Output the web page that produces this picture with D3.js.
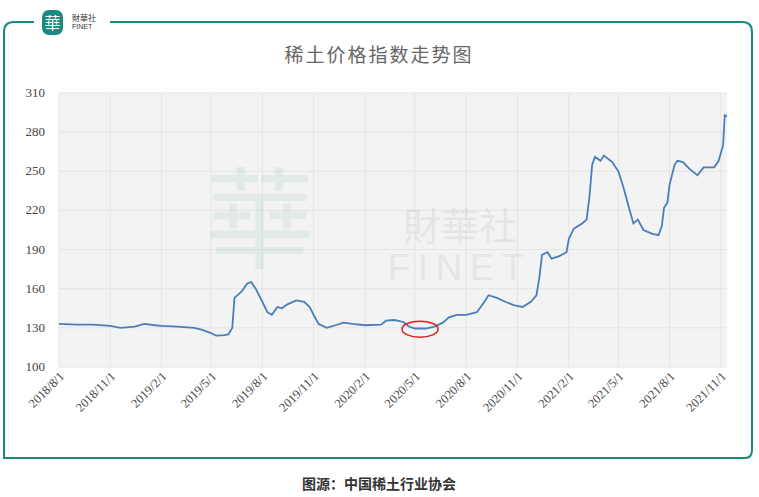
<!DOCTYPE html><html><head><meta charset="utf-8"><script src="https://d3js.org/d3.v7.min.js"></script>
<style>body{margin:0;background:#fff}</style></head><body><svg width="759" height="497"></svg>
<script>
const dates=["2018-08-01","2018-09-01","2018-10-01","2018-11-01","2018-11-20","2018-12-15","2019-01-01","2019-01-20","2019-02-01","2019-03-01","2019-04-01","2019-04-15","2019-05-01","2019-05-10","2019-05-25","2019-06-01","2019-06-08","2019-06-12","2019-06-25","2019-07-05","2019-07-12","2019-07-20","2019-08-01","2019-08-10","2019-08-18","2019-08-28","2019-09-05","2019-09-15","2019-10-01","2019-10-15","2019-10-25","2019-11-01","2019-11-10","2019-11-25","2019-12-10","2019-12-25","2020-01-10","2020-02-01","2020-03-01","2020-03-10","2020-03-25","2020-04-10","2020-04-20","2020-05-01","2020-05-20","2020-06-05","2020-06-20","2020-07-01","2020-07-15","2020-08-01","2020-08-20","2020-09-01","2020-09-10","2020-09-25","2020-10-10","2020-10-25","2020-11-10","2020-11-25","2020-12-05","2020-12-10","2020-12-15","2020-12-25","2021-01-01","2021-01-15","2021-01-28","2021-02-01","2021-02-10","2021-02-25","2021-03-05","2021-03-10","2021-03-15","2021-03-20","2021-03-30","2021-04-05","2021-04-20","2021-05-01","2021-05-10","2021-05-20","2021-05-28","2021-06-05","2021-06-15","2021-07-01","2021-07-12","2021-07-18","2021-07-22","2021-07-28","2021-08-01","2021-08-10","2021-08-15","2021-08-25","2021-09-05","2021-09-20","2021-10-01","2021-10-20","2021-10-28","2021-11-05","2021-11-08","2021-11-12"];
const values=[133,132.5,132.5,131.5,130,131,133,132,131.5,131,130,128.5,126,124,124.5,125,130,153,158,164,165,160,150,142,140,146,145,148,151,150,146,140,133,130,132,134,133,132,132.5,135.5,136,134.5,131,129.5,129.5,131,134,138,140,140,142,149,155,153,150,147.5,146,150,155,168,186,188,183,185,188,198,206,210,213,230,255,261,258,262,257,250,238,222,210,213,205,202,201,208,222,226,240,255,258,257,252,247,253,253,258,270,293,292];
const tickLabels=["2018/8/1","2018/11/1","2019/2/1","2019/5/1","2019/8/1","2019/11/1","2020/2/1","2020/5/1","2020/8/1","2020/11/1","2021/2/1","2021/5/1","2021/8/1","2021/11/1"];
const yTicks=[100,130,160,190,220,250,280,310];
const title="稀土价格指数走势图", source="图源：中国稀土行业协会";
const p=d3.timeParse("%Y-%m-%d"), tp=d3.timeParse("%Y/%m/%d");
const data=dates.map((d,i)=>({d:p(d),v:values[i]}));
const svg=d3.select("svg");
const x=d3.scaleTime().domain([p("2018-08-01"),p("2021-11-12")]).range([59,727]);
const y=d3.scaleLinear().domain([100,310]).range([367,93]);
svg.append("path").attr("d","M110,22 H14 Q4,22 4,32 V458 H745 Q752,458 752,450 V32 Q752,22 742,22 H110").attr("fill","none").attr("stroke","#1a8a80").attr("stroke-width",2);
svg.append("rect").attr("x",34).attr("y",10).attr("width",76).attr("height",30).attr("fill","#fff");
svg.append("rect").attr("x",42).attr("y",10).attr("width",21).attr("height",25).attr("rx",7).attr("fill","#1a8a80");
svg.append("text").attr("x",52.5).attr("y",29).attr("text-anchor","middle").attr("fill","#fff").attr("font-size",16).attr("font-family","Noto Sans CJK TC").text("華");
svg.append("text").attr("x",72).attr("y",21).attr("font-size",8).attr("font-family","Noto Sans CJK TC").attr("fill","#333").text("財華社");
svg.append("text").attr("x",72).attr("y",29).attr("font-size",7).attr("font-family","Liberation Sans").attr("fill","#333").text("FINET");
svg.append("text").attr("x",379).attr("y",62).attr("text-anchor","middle").attr("font-size",19).attr("fill","#666").attr("letter-spacing",2).attr("font-family","Noto Sans CJK SC").text(title);
svg.append("rect").attr("x",59).attr("y",93).attr("width",668).attr("height",274).attr("fill","#f3f3f3");
const ticks=tickLabels.map(tp);
svg.append("g").selectAll("line").data(ticks).join("line").attr("x1",d=>x(d)).attr("x2",d=>x(d)).attr("y1",93).attr("y2",367).attr("stroke","#e4e4e4");
svg.append("g").selectAll("line").data(yTicks).join("line").attr("x1",59).attr("x2",727).attr("y1",d=>y(d)).attr("y2",d=>y(d)).attr("stroke","#e4e4e4");
svg.append("text").attr("x",260).attr("y",260).attr("text-anchor","middle").attr("font-size",110).attr("fill","#1a8a80").attr("opacity",0.08).attr("font-family","Noto Sans CJK TC").text("華");
svg.append("text").attr("x",460).attr("y",240).attr("text-anchor","middle").attr("font-size",38).attr("fill","#999").attr("opacity",0.15).attr("font-family","Noto Sans CJK TC").text("財華社");
svg.append("text").attr("x",460).attr("y",280).attr("text-anchor","middle").attr("font-size",36).attr("fill","#999").attr("opacity",0.15).attr("letter-spacing",8).attr("font-family","Liberation Sans").text("FINET");
svg.append("g").selectAll("text").data(yTicks).join("text").attr("x",45).attr("y",d=>y(d)+4).attr("text-anchor","end").attr("font-size",13).attr("font-family","Liberation Serif").attr("fill","#444").text(d=>d);
svg.append("g").selectAll("text").data(ticks).join("text").attr("transform",d=>`translate(${x(d)+6},${377}) rotate(-45)`).attr("text-anchor","end").attr("font-size",12.5).attr("font-family","Liberation Serif").attr("fill","#444").text((d,i)=>tickLabels[i]);
svg.append("path").datum(data).attr("d",d3.line().x(d=>x(d.d)).y(d=>y(d.v))).attr("fill","none").attr("stroke","#4a7ebb").attr("stroke-width",1.8);
svg.append("ellipse").attr("cx",x(p("2020-05-10"))).attr("cy",y(129)).attr("rx",18).attr("ry",8).attr("fill","none").attr("stroke","#e02020").attr("stroke-width",1.5);
svg.append("text").attr("x",379).attr("y",489).attr("text-anchor","middle").attr("font-size",14).attr("font-weight","bold").attr("fill","#333").attr("font-family","Noto Sans CJK SC").text(source);
</script></body></html>
